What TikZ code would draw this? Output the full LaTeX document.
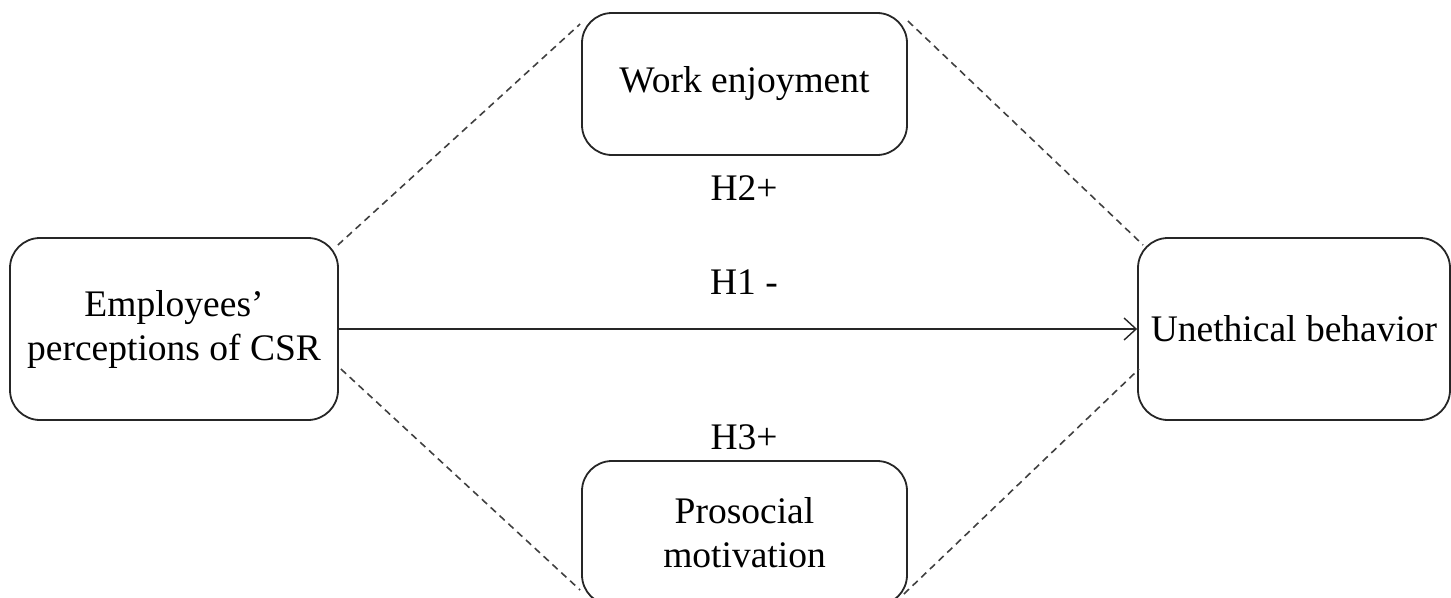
\documentclass[tikz,border=0pt]{standalone}
\usepackage{fontspec}
\setmainfont{Liberation Serif}
\usetikzlibrary{calc,arrows.meta}
\begin{document}
\begin{tikzpicture}[x=1pt,y=-1pt,
  box/.style={draw=black!85,line width=1.8pt,rounded corners=30pt,align=center,
    font=\fontsize{37.5}{44}\selectfont,inner sep=0pt},
  lbl/.style={font=\fontsize{37.5}{44}\selectfont,inner sep=0pt},
  dsh/.style={draw=black!75,line width=1.6pt,dash pattern=on 7pt off 5pt},
  arr/.style={draw=black!85,line width=1.4pt,-{Straight Barb[length=12pt,width=22pt,line width=1.4pt]}}]
\useasboundingbox (0,0) rectangle (1451,597);
\node[box,minimum width=328pt,minimum height=182pt] (L) at (174,329) {Employees’\\perceptions of CSR};
\node[box,minimum width=325pt,minimum height=142pt] (T) at (744.5,84) {Work enjoyment};
\node[box,minimum width=325pt,minimum height=144pt] (B) at (744.5,533) {Prosocial\\motivation};
\node[box,minimum width=312pt,minimum height=182pt] (R) at (1294,329) {Unethical behavior};
\node[lbl] (h2) at (744,188) {H2+};
\node[lbl] (h1) at (744,282) {H1 -};
\node[lbl] (h3) at (744,437) {H3+};
\draw[arr] (L.east) -- (R.west);
\draw[dsh] ($(L.east)+(-1,-84)$) -- ($(T.west)+(-1,-60)$);
\draw[dsh] ($(T.east)+(0,-63)$) -- ($(R.west)+(6,-84)$);
\draw[dsh] ($(L.east)+(2,40)$) -- ($(B.west)+(-1,57)$);
\draw[dsh] ($(B.east)+(-4,61)$) -- ($(R.west)+(2,40)$);
\end{tikzpicture}
\end{document}
